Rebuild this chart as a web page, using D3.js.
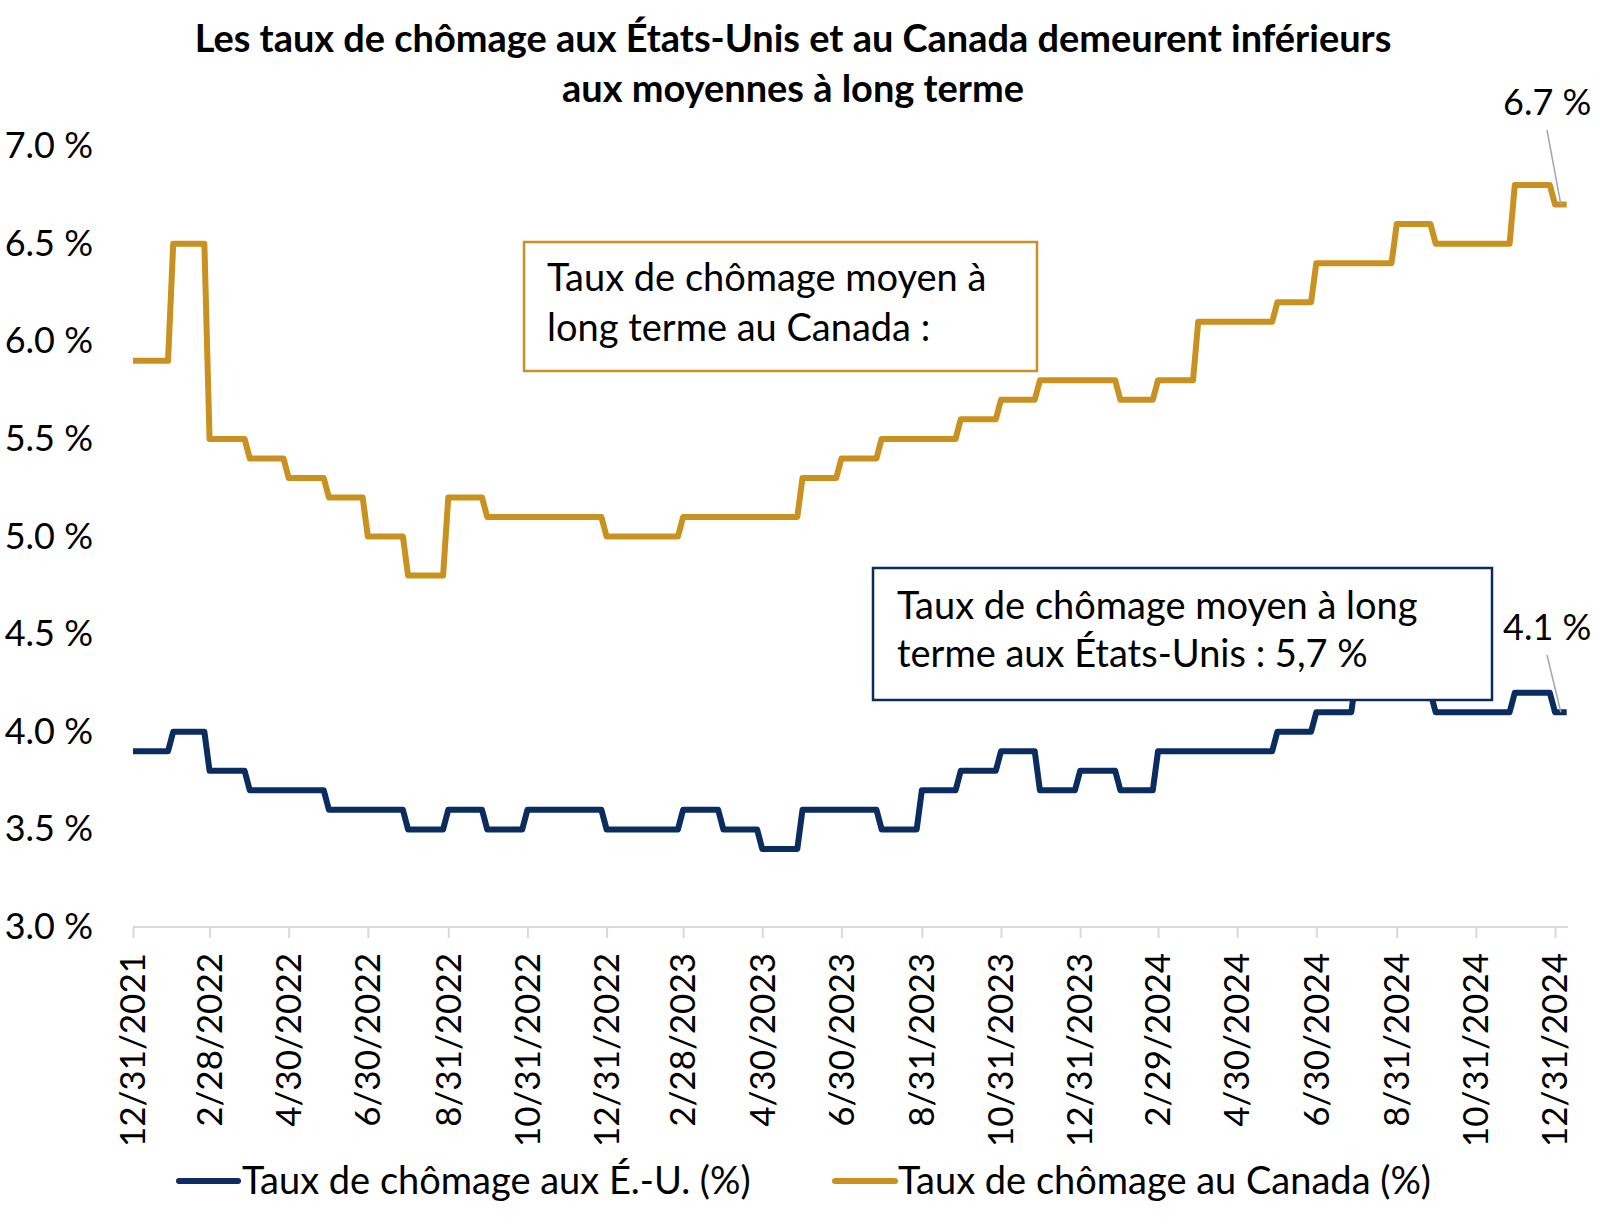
<!DOCTYPE html>
<html>
<head>
<meta charset="utf-8">
<script src="https://cdn.jsdelivr.net/npm/d3@7"></script>
<style>
  html, body { margin: 0; padding: 0; background: #fff; }
  svg { display: block; font-family: "Lato", "Open Sans", sans-serif; }
</style>
</head>
<body>
<svg id="chart" width="1600" height="1232"></svg>
<script>
// ---------- data ----------
const dates = [
  "2021-12-31","2022-01-31","2022-02-28","2022-03-31","2022-04-30","2022-05-31","2022-06-30",
  "2022-07-31","2022-08-31","2022-09-30","2022-10-31","2022-11-30","2022-12-31",
  "2023-01-31","2023-02-28","2023-03-31","2023-04-30","2023-05-31","2023-06-30",
  "2023-07-31","2023-08-31","2023-09-30","2023-10-31","2023-11-30","2023-12-31",
  "2024-01-31","2024-02-29","2024-03-31","2024-04-30","2024-05-31","2024-06-30",
  "2024-07-31","2024-08-31","2024-09-30","2024-10-31","2024-11-30","2024-12-31"
];
const usRate = [
  3.9, 4.0, 3.8, 3.7, 3.7, 3.6, 3.6, 3.5, 3.6, 3.5, 3.6, 3.6, 3.5,
  3.5, 3.6, 3.5, 3.4, 3.6, 3.6, 3.5, 3.7, 3.8, 3.9, 3.7, 3.8,
  3.7, 3.9, 3.9, 3.9, 4.0, 4.1, 4.3, 4.2, 4.1, 4.1, 4.2, 4.1
];
const caRate = [
  5.9, 6.5, 5.5, 5.4, 5.3, 5.2, 5.0, 4.8, 5.2, 5.1, 5.1, 5.1, 5.0,
  5.0, 5.1, 5.1, 5.1, 5.3, 5.4, 5.5, 5.5, 5.6, 5.7, 5.8, 5.8,
  5.7, 5.8, 6.1, 6.1, 6.2, 6.4, 6.4, 6.6, 6.5, 6.5, 6.8, 6.7
];
const lineEndDate = "2025-01-09";
const axisEndDate = "2025-01-10";
const xTickDates = [
  "2021-12-31","2022-02-28","2022-04-30","2022-06-30","2022-08-31","2022-10-31",
  "2022-12-31","2023-02-28","2023-04-30","2023-06-30","2023-08-31","2023-10-31",
  "2023-12-31","2024-02-29","2024-04-30","2024-06-30","2024-08-31","2024-10-31","2024-12-31"
];
const yTicks = [3.0, 3.5, 4.0, 4.5, 5.0, 5.5, 6.0, 6.5, 7.0];
const titleLines = [
  "Les taux de chômage aux États-Unis et au Canada demeurent inférieurs",
  "aux moyennes à long terme"
];
const seriesNames = ["Taux de chômage aux É.-U. (%)", "Taux de chômage au Canada (%)"];
const boxCanada = ["Taux de chômage moyen à", "long terme au Canada :"];
const boxUS = ["Taux de chômage moyen à long", "terme aux États-Unis : 5,7 %"];

// ---------- setup ----------
const parse = d3.utcParse("%Y-%m-%d");
const fmtTick = d => `${d.getUTCMonth() + 1}/${d.getUTCDate()}/${d.getUTCFullYear()}`;
const fmtPct = v => d3.format(".1f")(v) + " %";
const DAY = 86400000;

const navy = "#0B2C5F";
const gold = "#C9911F";
const axisGray = "#D9D9D9";

const svg = d3.select("#chart");
const x = d3.scaleUtc().domain([parse(dates[0]), parse(axisEndDate)]).range([133, 1568]);
const y = d3.scaleLinear().domain([3, 7]).range([927, 146]);

// ---------- title ----------
const title = svg.append("g");
const t1 = title.append("text").attr("x", 793).attr("y", 52).attr("text-anchor", "middle")
  .attr("font-weight", 700).attr("font-size", 32).text(titleLines[0]);
const w = t1.node().getComputedTextLength();
const tSize = 32 * 1197 / w;
t1.attr("font-size", tSize);
title.append("text").attr("x", 793).attr("y", 102).attr("text-anchor", "middle")
  .attr("font-weight", 700).attr("font-size", tSize).text(titleLines[1]);

// ---------- y axis labels ----------
svg.append("g").selectAll("text").data(yTicks).join("text")
  .attr("x", 93).attr("y", d => y(d) + 12).attr("text-anchor", "end")
  .attr("font-size", 36).attr("fill", "#000").text(fmtPct);

// ---------- x axis ----------
const xAxis = d3.axisBottom(x).tickValues(xTickDates.map(parse)).tickSize(11).tickFormat("");
const gx = svg.append("g").attr("transform", "translate(0,927)").call(xAxis);
gx.select(".domain").attr("stroke", axisGray).attr("stroke-width", 2).attr("d", `M${x.range()[0]},0H${x.range()[1]}`);
gx.selectAll(".tick line").attr("stroke", axisGray).attr("stroke-width", 2);
svg.append("g").selectAll("text").data(xTickDates.map(parse)).join("text")
  .attr("transform", d => `translate(${x(d)},953) rotate(-90)`)
  .attr("text-anchor", "end").attr("dy", "0.35em")
  .attr("font-size", 35).attr("fill", "#000").text(fmtTick);

// ---------- step lines ----------
function stepPoints(vals) {
  const pts = [];
  vals.forEach((v, i) => {
    const d = parse(dates[i]);
    pts.push([d, v]);
    if (i < vals.length - 1) {
      pts.push([new Date(+parse(dates[i + 1]) - 4 * DAY), v]);
    } else {
      pts.push([parse(lineEndDate), v]);
    }
  });
  return pts;
}
const line = d3.line().x(p => x(p[0])).y(p => y(p[1]));
svg.append("path").attr("d", line(stepPoints(caRate))).attr("fill", "none")
  .attr("stroke", gold).attr("stroke-width", 6).attr("stroke-linejoin", "round");
svg.append("path").attr("d", line(stepPoints(usRate))).attr("fill", "none")
  .attr("stroke", navy).attr("stroke-width", 6).attr("stroke-linejoin", "round");

// ---------- text boxes ----------
function box(x0, y0, x1, y1, color, lines, tx, baselines) {
  const g = svg.append("g");
  g.append("rect").attr("x", x0).attr("y", y0).attr("width", x1 - x0).attr("height", y1 - y0)
    .attr("fill", "#fff").attr("stroke", color).attr("stroke-width", 2.5);
  lines.forEach((l, i) => {
    g.append("text").attr("x", tx).attr("y", baselines[i]).attr("font-size", 38)
      .attr("fill", "#000").text(l);
  });
}
box(524, 242, 1037, 371, gold, boxCanada, 547, [291, 341]);
box(873, 568, 1492, 700, navy, boxUS, 897, [619, 667]);

// ---------- end annotations ----------
const lastDate = parse(dates[dates.length - 1]);
const endMid = new Date((+lastDate + +parse(lineEndDate)) / 2);
function annotate(val, labelBaseline) {
  svg.append("line").attr("x1", 1547).attr("y1", labelBaseline + 15)
    .attr("x2", x(endMid)).attr("y2", y(val))
    .attr("stroke", "#A6A6A6").attr("stroke-width", 1.5);
  svg.append("text").attr("x", 1503).attr("y", labelBaseline).attr("font-size", 36)
    .attr("fill", "#000").text(fmtPct(val));
}
annotate(caRate[caRate.length - 1], 115);
annotate(usRate[usRate.length - 1], 640);

// ---------- legend ----------
const legend = svg.append("g");
[[179, 238, 242, navy, seriesNames[0]], [835, 895, 898, gold, seriesNames[1]]].forEach(([a, b, tx, c, name]) => {
  legend.append("line").attr("x1", a).attr("x2", b).attr("y1", 1181).attr("y2", 1181)
    .attr("stroke", c).attr("stroke-width", 6).attr("stroke-linecap", "round");
  legend.append("text").attr("x", tx).attr("y", 1194).attr("font-size", 38).attr("fill", "#000").text(name);
});
</script>
</body>
</html>
